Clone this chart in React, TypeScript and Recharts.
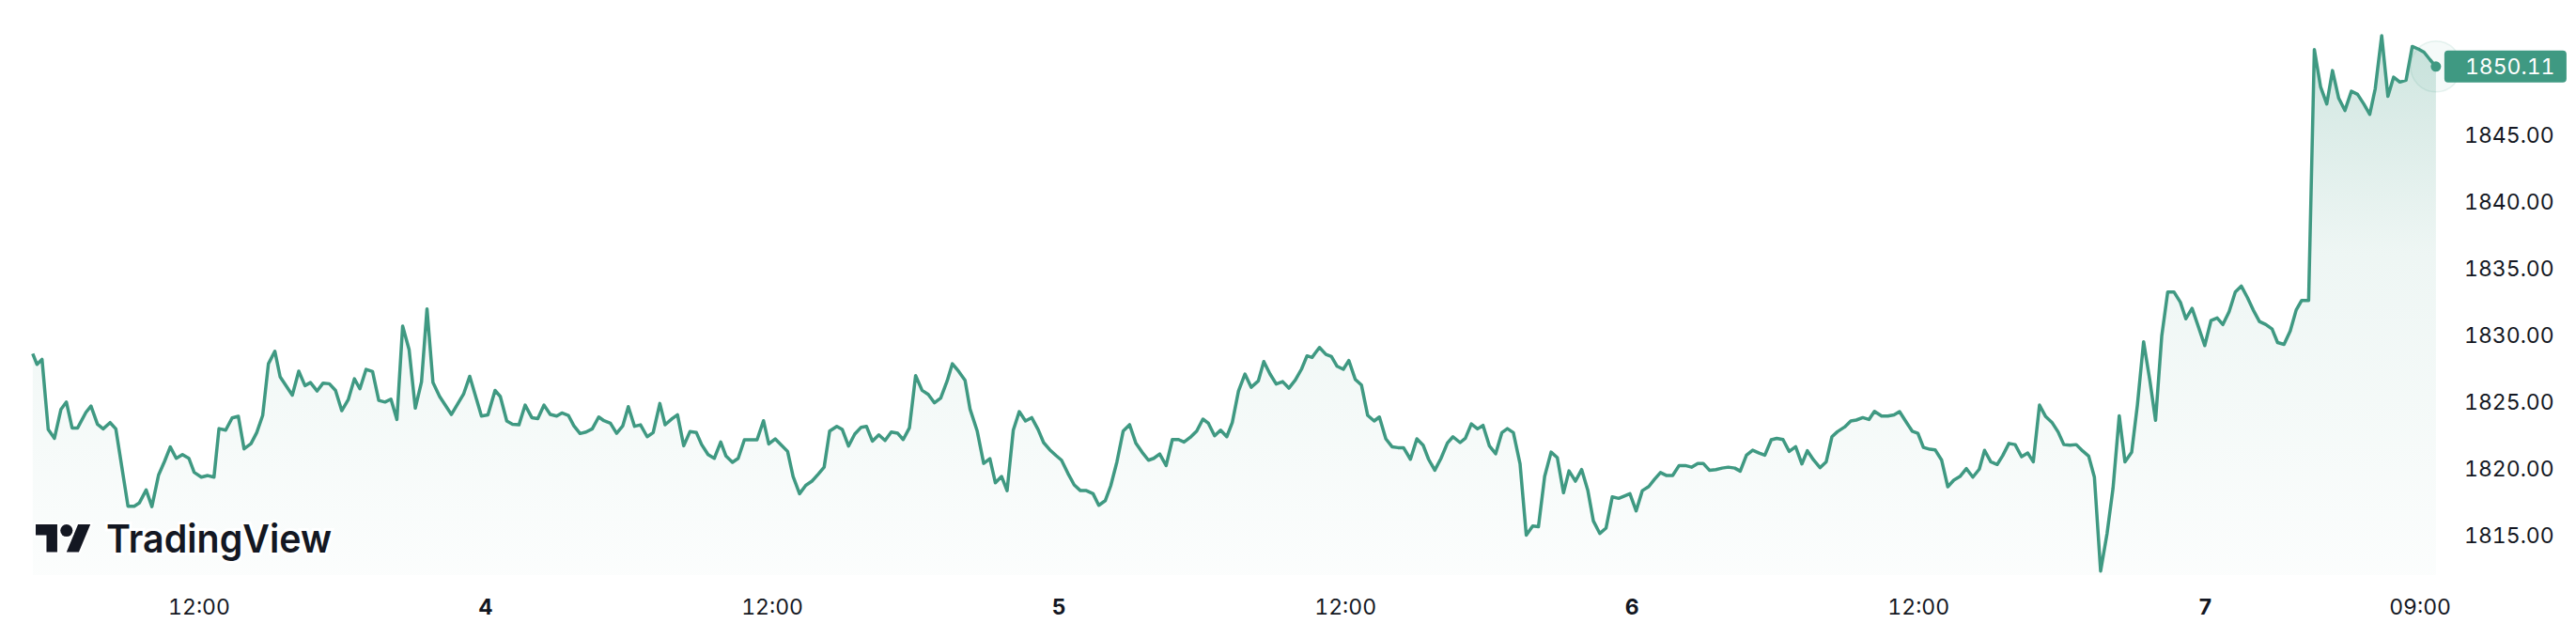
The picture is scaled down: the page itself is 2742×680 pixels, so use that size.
import React from 'react';
import { AreaChart, Area, XAxis, YAxis, ReferenceDot } from 'recharts';

// Time in hours from day 3, 00:00 (chart time); prices.
const day3Hours = [5.03, 5.21, 5.42, 5.68, 5.94, 6.21, 6.44, 6.68, 6.91, 7.26, 7.47, 7.74, 7.98, 8.27, 8.51, 9.02, 9.28, 9.49, 9.78, 10.02, 10.3, 10.55, 10.79, 11.04, 11.3, 11.57, 11.79, 12.09, 12.36, 12.62, 12.83, 13.11, 13.38, 13.64, 13.88, 14.17, 14.41, 14.66, 14.9, 15.17, 15.39, 15.9, 16.17, 16.43, 16.66, 16.94, 17.19, 17.45, 17.71, 17.97, 18.24, 18.5, 18.73, 18.99, 19.26, 19.52, 19.78, 20.03, 20.28, 20.52, 20.79, 21.05, 21.31, 21.54, 21.79, 22.07, 22.56, 23.07, 23.33, 23.82];
const day3Prices = [1828.59, 1827.79, 1828.17, 1822.91, 1822.25, 1824.41, 1824.97, 1823.03, 1823.03, 1824.2, 1824.67, 1823.31, 1822.96, 1823.43, 1822.96, 1817.16, 1817.16, 1817.4, 1818.38, 1817.13, 1819.5, 1820.52, 1821.6, 1820.75, 1821.03, 1820.75, 1819.7, 1819.34, 1819.46, 1819.34, 1822.98, 1822.86, 1823.78, 1823.9, 1821.46, 1821.85, 1822.68, 1823.97, 1827.84, 1828.78, 1826.86, 1825.49, 1827.28, 1826.2, 1826.43, 1825.8, 1826.39, 1826.34, 1825.84, 1824.32, 1825.14, 1826.71, 1825.96, 1827.42, 1827.25, 1825.09, 1824.97, 1825.19, 1823.66, 1830.66, 1828.9, 1824.51, 1826.48, 1831.95, 1826.43, 1825.38, 1824.04, 1825.56, 1826.9, 1823.92];

const day4Hours = [24.09, 24.39, 24.61, 24.88, 25.12, 25.39, 25.65, 25.93, 26.18, 26.44, 26.7, 26.97, 27.19, 27.46, 27.69, 27.95, 28.2, 28.46, 28.73, 28.95, 29.22, 29.48, 29.74, 29.97, 30.23, 30.48, 30.76, 31.01, 31.29, 31.51, 31.81, 32.03, 32.29, 32.55, 32.82, 33.04, 33.31, 33.57, 33.84, 34.06, 34.33, 34.57, 34.83, 35.1, 35.36, 35.63, 35.85, 36.12, 36.38, 36.64, 36.87, 37.14, 37.4, 37.66, 37.93, 38.17, 38.4, 38.7, 38.93, 39.19, 39.45, 39.72, 39.94, 40.19, 40.46, 40.72, 40.98, 41.25, 41.48, 41.74, 42.0, 42.27, 42.53, 42.79, 43.05, 43.32, 43.54, 43.81, 44.07, 44.28, 44.58, 44.85, 45.11, 45.34, 45.6, 45.83, 46.09, 46.34, 46.6, 46.86, 47.13, 47.36, 47.62, 47.88];
const day4Prices = [1824.01, 1825.84, 1825.38, 1823.55, 1823.31, 1823.26, 1824.74, 1823.8, 1823.73, 1824.74, 1824.04, 1823.92, 1824.15, 1823.97, 1823.19, 1822.61, 1822.72, 1822.96, 1823.85, 1823.57, 1823.38, 1822.63, 1823.19, 1824.62, 1823.15, 1823.26, 1822.37, 1822.68, 1824.86, 1823.27, 1823.73, 1824.01, 1821.69, 1822.75, 1822.68, 1821.78, 1821.03, 1820.75, 1821.97, 1820.92, 1820.45, 1820.75, 1822.14, 1822.14, 1822.14, 1823.57, 1821.83, 1822.21, 1821.74, 1821.27, 1819.39, 1818.1, 1818.73, 1819.04, 1819.58, 1820.09, 1822.79, 1823.15, 1822.91, 1821.67, 1822.56, 1823.08, 1823.15, 1822.04, 1822.51, 1822.09, 1822.72, 1822.63, 1822.16, 1823.03, 1826.95, 1825.85, 1825.54, 1824.91, 1825.26, 1826.55, 1827.84, 1827.25, 1826.6, 1824.44, 1822.79, 1820.37, 1820.73, 1818.92, 1819.39, 1818.33, 1822.86, 1824.25, 1823.55, 1823.8, 1822.91, 1821.93, 1821.39, 1820.96];

const day5Hours = [48.11, 48.38, 48.64, 48.9, 49.15, 49.43, 49.67, 49.94, 50.17, 50.43, 50.69, 50.96, 51.22, 51.48, 51.75, 51.97, 52.22, 52.49, 52.75, 53.01, 53.24, 53.5, 53.77, 54.03, 54.26, 54.52, 54.77, 55.03, 55.26, 55.52, 55.79, 56.05, 56.35, 56.58, 56.84, 57.1, 57.37, 57.63, 57.9, 58.16, 58.39, 58.6, 58.74, 58.91, 59.18, 59.41, 59.65, 59.91, 60.14, 60.41, 60.67, 60.93, 61.2, 61.42, 61.69, 61.95, 62.2, 62.43, 62.72, 62.99, 63.25, 63.48, 63.74, 64.0, 64.27, 64.5, 64.8, 65.02, 65.27, 65.53, 65.76, 66.03, 66.29, 66.55, 66.78, 67.03, 67.31, 67.57, 67.84, 68.08, 68.34, 68.61, 68.87, 69.13, 69.36, 69.63, 69.89, 70.15, 70.38, 70.65, 70.91, 71.17, 71.44, 71.68, 71.91];
const day5Prices = [1820.61, 1819.62, 1818.76, 1818.33, 1818.33, 1818.1, 1817.23, 1817.58, 1818.69, 1820.49, 1822.79, 1823.27, 1821.9, 1821.22, 1820.61, 1820.75, 1821.08, 1820.21, 1822.16, 1822.16, 1821.97, 1822.32, 1822.79, 1823.69, 1823.38, 1822.44, 1822.86, 1822.37, 1823.43, 1825.8, 1827.07, 1826.08, 1826.55, 1828.01, 1827.07, 1826.32, 1826.5, 1826.01, 1826.62, 1827.44, 1828.43, 1828.31, 1828.65, 1829.06, 1828.54, 1828.38, 1827.65, 1827.42, 1828.08, 1826.67, 1826.24, 1823.97, 1823.55, 1823.85, 1822.21, 1821.62, 1821.55, 1821.55, 1820.68, 1822.21, 1821.74, 1820.68, 1819.86, 1820.75, 1821.9, 1822.37, 1821.93, 1822.25, 1823.33, 1822.96, 1823.22, 1821.67, 1821.1, 1822.68, 1822.98, 1822.68, 1820.33, 1815.0, 1815.68, 1815.63, 1819.39, 1821.22, 1820.8, 1818.17, 1819.81, 1819.04, 1819.91, 1818.33, 1816.06, 1815.12, 1815.52, 1817.86, 1817.75, 1817.93, 1818.1];

const day6Hours = [72.17, 72.43, 72.7, 72.93, 73.19, 73.45, 73.7, 73.97, 74.23, 74.49, 74.75, 74.98, 75.24, 75.51, 75.77, 76.03, 76.3, 76.53, 76.79, 77.05, 77.32, 77.56, 77.83, 78.06, 78.32, 78.58, 78.85, 79.11, 79.34, 79.6, 79.87, 80.13, 80.37, 80.6, 80.9, 81.16, 81.39, 81.66, 81.92, 82.15, 82.45, 82.71, 82.97, 83.2, 83.47, 83.73, 83.97, 84.2, 84.47, 84.69, 84.96, 85.22, 85.47, 85.73, 86.0, 86.27, 86.54, 86.76, 87.02, 87.29, 87.52, 87.78, 88.04, 88.31, 88.57, 88.8, 89.06, 89.32, 89.58, 89.84, 90.08, 90.34, 90.6, 90.87, 91.12, 91.36, 91.62, 91.89, 92.14, 92.4, 92.64, 92.92, 93.16, 93.42, 93.68, 93.92, 94.18, 94.43, 94.69, 94.96, 95.19, 95.45, 95.72, 95.98];
const day6Prices = [1816.81, 1818.33, 1818.64, 1819.16, 1819.69, 1819.46, 1819.46, 1820.21, 1820.21, 1820.09, 1820.37, 1820.37, 1819.86, 1819.91, 1820.02, 1820.09, 1820.02, 1819.79, 1820.99, 1821.36, 1821.15, 1820.99, 1822.14, 1822.25, 1822.16, 1821.27, 1821.62, 1820.33, 1821.32, 1820.63, 1820.05, 1820.49, 1822.37, 1822.75, 1823.1, 1823.55, 1823.62, 1823.8, 1823.66, 1824.27, 1823.92, 1823.92, 1824.01, 1824.25, 1823.5, 1822.79, 1822.63, 1821.57, 1821.43, 1821.39, 1820.63, 1818.62, 1819.11, 1819.39, 1819.98, 1819.34, 1819.94, 1821.35, 1820.49, 1820.29, 1820.95, 1821.87, 1821.78, 1820.87, 1821.15, 1820.49, 1824.74, 1823.88, 1823.45, 1822.73, 1821.78, 1821.73, 1821.78, 1821.3, 1820.92, 1819.34, 1812.3, 1815.12, 1818.51, 1823.94, 1820.49, 1821.21, 1824.74, 1829.49, 1826.61, 1823.6, 1829.92, 1833.22, 1833.22, 1832.45, 1831.21, 1831.99, 1830.58, 1829.2];

const day7Hours = [96.24, 96.5, 96.74, 97.0, 97.26, 97.51, 97.77, 98.01, 98.27, 98.54, 98.8, 99.03, 99.3, 99.56, 99.81, 100.04, 100.33, 100.57, 100.83, 101.09, 101.33, 101.59, 101.85, 102.12, 102.38, 102.64, 102.89, 103.12, 103.39, 103.65, 103.89, 104.15, 104.41, 104.67, 104.93, 105.16, 105.42, 105.66];
const day7Prices = [1831.07, 1831.27, 1830.78, 1831.73, 1833.22, 1833.66, 1832.79, 1831.87, 1831.01, 1830.78, 1830.44, 1829.43, 1829.29, 1830.29, 1831.87, 1832.59, 1832.59, 1851.39, 1848.6, 1847.31, 1849.81, 1847.74, 1846.82, 1848.26, 1848.03, 1847.31, 1846.53, 1848.46, 1852.43, 1847.88, 1849.32, 1848.95, 1849.09, 1851.62, 1851.42, 1851.19, 1850.61, 1850.11];

const tickHours = [12, 24, 36, 48, 60, 72, 84, 96, 105];
const tickLabels = ['12:00', '4', '12:00', '5', '12:00', '6', '12:00', '7', '09:00'];
const dayTickLabels = ['4', '5', '6', '7'];
const priceTicks = [1815, 1820, 1825, 1830, 1835, 1840, 1845];

const hours = [...day3Hours, ...day4Hours, ...day5Hours, ...day6Hours, ...day7Hours];
const prices = [...day3Prices, ...day4Prices, ...day5Prices, ...day6Prices, ...day7Prices];
const data = hours.map((t, i) => ({ t, price: prices[i] }));
const last = data[data.length - 1];

const LINE = '#3f9982';
const TEXT = '#131722';
const FONT = 'Inter, "Noto Sans", Roboto, sans-serif';
const NUM_STYLE = { fontVariantNumeric: 'tabular-nums' as const };

const XTick = (props: any) => {
  const { x, y, payload } = props;
  const idx = tickHours.indexOf(payload.value);
  const label = idx >= 0 ? tickLabels[idx] : '';
  const bold = dayTickLabels.includes(label);
  return (
    <text x={x} y={y} dy={16.5} textAnchor="middle" fontFamily={FONT} fontSize={23}
      fontWeight={bold ? 700 : 400} fill={TEXT} style={NUM_STYLE}>
      {label}
    </text>
  );
};

const YTick = (props: any) => {
  const { x, y, payload } = props;
  return (
    <text x={x} y={y} dy="0.355em" textAnchor="start" fontFamily={FONT} fontSize={23}
      fill={TEXT} style={NUM_STYLE}>
      {Number(payload.value).toFixed(2)}
    </text>
  );
};

const LastPrice = (props: any) => {
  const { cx, cy } = props;
  return (
    <g>
      <circle cx={cx} cy={cy} r={27} fill="rgba(63,153,130,0.05)" stroke="rgba(63,153,130,0.12)" strokeWidth={1.5} />
      <circle cx={cx} cy={cy} r={5.5} fill={LINE} />
      <rect x={cx + 9} y={cy - 17} width={130} height={34} rx={4} fill={LINE} />
      <text x={cx + 31} y={cy} dy="0.355em" fill="#ffffff" fontSize={23} fontFamily={FONT} style={NUM_STYLE}>
        {last.price.toFixed(2)}
      </text>
    </g>
  );
};

export default function App() {
  return (
    <div style={{ position: 'absolute', left: 0, top: 0, width: 2742, height: 680, background: '#ffffff' }}>
      <AreaChart width={2742} height={680} data={data} margin={{ top: 0, right: 0, bottom: 0, left: 0 }}>
        <defs>
          <linearGradient id="areaFill" x1="0" y1="0" x2="0" y2="1">
            <stop offset="0%" stopColor={LINE} stopOpacity={0.42} />
            <stop offset="40%" stopColor={LINE} stopOpacity={0.15} />
            <stop offset="100%" stopColor={LINE} stopOpacity={0.03} />
          </linearGradient>
        </defs>
        <XAxis dataKey="t" type="number" domain={[3.66, 105.94]} allowDataOverflow ticks={tickHours}
          height={68} axisLine={false} tickLine={false} tickSize={0} tickMargin={25} tick={<XTick />} interval={0} />
        <YAxis type="number" orientation="right" width={142} domain={[1812, 1855.1]} allowDataOverflow
          ticks={priceTicks} axisLine={false} tickLine={false}
          tickSize={0} tickMargin={23} interval={0} tick={<YTick />} />
        <Area type="linear" dataKey="price" stroke={LINE} strokeWidth={3.5} strokeLinejoin="round" fill="url(#areaFill)"
          dot={false} activeDot={false} isAnimationActive={false} />
        <ReferenceDot x={last.t} y={last.price} r={5.5} shape={<LastPrice />} ifOverflow="visible" />
      </AreaChart>
      <svg width={2742} height={680} style={{ position: 'absolute', left: 0, top: 0, pointerEvents: 'none' }}>
        <g transform="translate(38 551.4) scale(1.64)" fill={TEXT} stroke="#ffffff" strokeWidth={2.5} paintOrder="stroke">
          <path d="M14 22H7V11H0V4h14v18zM28 22h-8l7.5-18h8L28 22z" />
          <circle cx={20} cy={8} r={4} />
        </g>
        <text x={113} y={588} fontFamily={FONT} fontSize={41} fontWeight={600} fill={TEXT}
          stroke="#ffffff" strokeWidth={6} paintOrder="stroke" textLength={240} lengthAdjust="spacingAndGlyphs">
          TradingView
        </text>
      </svg>
    </div>
  );
}
